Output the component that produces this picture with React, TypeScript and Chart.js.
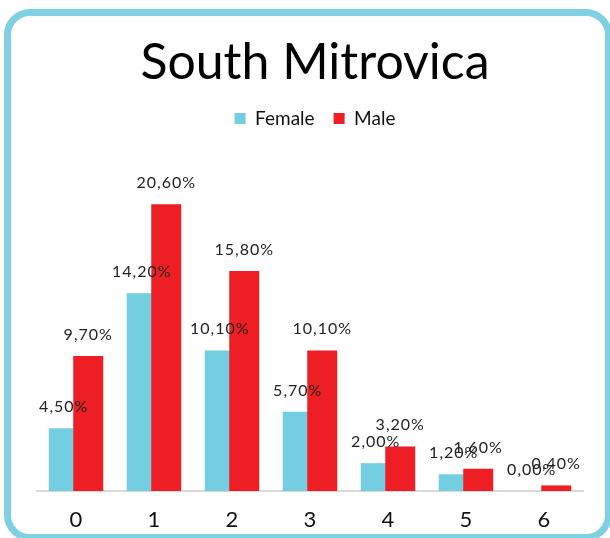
import React, { useEffect, useRef } from "react";
import { Chart, registerables } from "chart.js";

Chart.register(...registerables);

const TITLE = "South Mitrovica";
const CATEGORIES = ["0", "1", "2", "3", "4", "5", "6"];
const FEMALE = [4.5, 14.2, 10.1, 5.7, 2.0, 1.2, 0.0];
const MALE = [9.7, 20.6, 15.8, 10.1, 3.2, 1.6, 0.4];
const SERIES_NAMES = ["Female", "Male"];
const FEMALE_COLOR = "#73CEE1";
const MALE_COLOR = "#ED1F24";
const FONT = "Lato";

const fmt = (v: number) => v.toFixed(2).replace(".", ",") + "%";

const overlapAndLabels = {
  id: "overlapAndLabels",
  beforeDatasetDraw(chart: any, args: any) {
    if (args.index === 1) return false;
  },
  afterDatasetsDraw(chart: any) {
    const maleMeta = chart.getDatasetMeta(1);
    if (!maleMeta.hidden) maleMeta.controller.draw();
    const ctx = chart.ctx as CanvasRenderingContext2D;
    ctx.save();
    ctx.font = `16px ${FONT}`;
    (ctx as any).letterSpacing = "1px";
    ctx.fillStyle = "#222222";
    ctx.textAlign = "center";
    ctx.textBaseline = "alphabetic";
    chart.data.datasets.forEach((ds: any, di: number) => {
      const meta = chart.getDatasetMeta(di);
      if (meta.hidden) return;
      meta.data.forEach((el: any, i: number) => {
        ctx.fillText(fmt(ds.data[i]), el.x, el.y - 16);
      });
    });
    ctx.restore();
  },
};

export default function App() {
  const ref = useRef<HTMLCanvasElement>(null);
  useEffect(() => {
    if (!ref.current) return;
    const chart = new Chart(ref.current, {
      type: "bar",
      data: {
        labels: CATEGORIES,
        datasets: [
          {
            label: SERIES_NAMES[0],
            data: FEMALE,
            backgroundColor: FEMALE_COLOR,
            categoryPercentage: 0.628,
            barPercentage: 1.2245,
          },
          {
            label: SERIES_NAMES[1],
            data: MALE,
            backgroundColor: MALE_COLOR,
            categoryPercentage: 0.628,
            barPercentage: 1.2245,
          },
        ],
      },
      options: {
        responsive: false,
        animation: false,
        devicePixelRatio: 1,
        layout: { padding: { left: 37, right: 17, top: 0, bottom: -11.4 } },
        plugins: {
          title: {
            display: true,
            text: TITLE,
            color: "#000000",
            font: { family: FONT, size: 50, weight: "normal" },
            padding: { top: 33, bottom: -3 },
          },
          legend: {
            display: true,
            labels: {
              color: "#111111",
              font: { family: FONT, size: 19 },
              boxWidth: 11,
              boxHeight: 11,
              padding: 19,
            },
          },
          tooltip: { enabled: false },
        },
        scales: {
          x: {
            grid: { display: false, drawTicks: false },
            border: { display: true, color: "#D9D9D9", width: 2 },
            ticks: {
              color: "#111111",
              font: { family: FONT, size: 22 },
              padding: 16,
            },
          },
          spacer: {
            type: "category",
            position: "top",
            display: true,
            grid: { display: false, drawTicks: false },
            border: { display: false },
            ticks: { display: false },
            afterFit: (scale: any) => {
              scale.height = 5;
            },
          },
          spacerRight: {
            type: "linear",
            position: "right",
            display: true,
            grid: { display: false, drawTicks: false },
            border: { display: false },
            ticks: { display: false },
            afterFit: (scale: any) => {
              scale.width = 10;
            },
          },
          y: {
            display: false,
            min: 0,
            max: 25,
          },
        },
      } as any,
      plugins: [overlapAndLabels],
    });
    return () => chart.destroy();
  }, []);

  return (
    <>
      <div
        style={{
          position: "fixed",
          left: 4,
          top: 9,
          width: 608,
          height: 532,
          border: "7px solid #7ED0E2",
          borderRadius: 26,
          boxSizing: "border-box",
          background: "#FFFFFF",
        }}
      />
      <canvas
        ref={ref}
        width={610}
        height={538}
        style={{ position: "fixed", left: 0, top: 0, width: 610, height: 538 }}
      />
    </>
  );
}
